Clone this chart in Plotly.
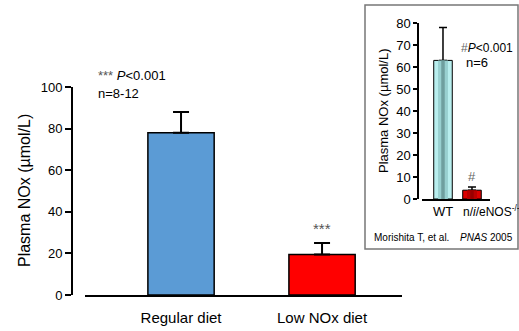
import plotly.graph_objects as go

W, H = 519, 331

# ---- data ----
main_groups = ["Regular diet", "Low NOx diet"]
main_means = [78, 19.5]
main_err = [10, 5.5]
main_colors = ["#5b9bd5", "#ff0000"]
main_ticks = [0, 20, 40, 60, 80, 100]

inset_groups = ["WT", "n/i/eNOS-/-"]
inset_labels = ["WT", "n/<i>i</i>/eNOS<sup>-/-</sup>"]
inset_means = [63, 4]
inset_err = [15, 1.5]
inset_ticks = [0, 10, 20, 30, 40, 50, 60, 70, 80]


def px(x):
    return x / W


def py(y):
    return 1 - y / H


FONT = "Arial, Liberation Sans, sans-serif"

fig = go.Figure()

# main bars
fig.add_trace(go.Bar(
    x=main_groups, y=main_means, width=0.47,
    marker=dict(color=main_colors, line=dict(color="black", width=1.5)),
    error_y=dict(type="data", symmetric=False, array=main_err, arrayminus=[0, 0],
                 color="black", thickness=2, width=8),
    xaxis="x", yaxis="y", showlegend=False,
))

# inset bars (layered to imitate shading)
fig.add_trace(go.Bar(
    x=inset_groups, y=inset_means, width=0.64,
    marker=dict(color=["#b8eeee", "#dd0000"], line=dict(color="black", width=1)),
    error_y=dict(type="data", symmetric=False, array=inset_err, arrayminus=[0, 0],
                 color="black", thickness=1.5, width=4),
    xaxis="x2", yaxis="y2", showlegend=False,
))
fig.add_trace(go.Bar(
    x=inset_groups, y=inset_means, width=0.34,
    marker=dict(color=["#98d0d0", "#bb0000"], line=dict(width=0)),
    xaxis="x2", yaxis="y2", showlegend=False, hoverinfo="skip",
))
fig.add_trace(go.Bar(
    x=inset_groups, y=inset_means, width=0.12,
    marker=dict(color=["#6f9f9f", "#990000"], line=dict(width=0)),
    xaxis="x2", yaxis="y2", showlegend=False, hoverinfo="skip",
))

fig.update_layout(
    template="none",
    width=W, height=H,
    margin=dict(l=0, r=0, t=0, b=0, pad=0, autoexpand=False),
    paper_bgcolor="white", plot_bgcolor="rgba(0,0,0,0)",
    barmode="overlay",
    font=dict(family=FONT, color="black"),
    xaxis=dict(
        domain=[px(85), px(402)], range=[-0.681, 1.567], anchor="y",
        showline=True, linecolor="black", linewidth=2, ticks="",
        showgrid=False, zeroline=False, tickfont=dict(size=15), ticklabelstandoff=8,
        automargin=False,
    ),
    yaxis=dict(
        domain=[py(295), py(87)], range=[0, 100], anchor="free", position=px(72),
        showline=True, linecolor="black", linewidth=2,
        ticks="outside", ticklen=6, tickwidth=2, tickcolor="black",
        tickvals=main_ticks, showgrid=False, zeroline=False, tickfont=dict(size=13),
        automargin=False,
    ),
    xaxis2=dict(
        domain=[px(422), px(490)], range=[-0.724, 1.621], anchor="y2",
        showline=True, linecolor="black", linewidth=1.5, ticks="",
        showgrid=False, zeroline=False, showticklabels=False, automargin=False,
    ),
    yaxis2=dict(
        domain=[py(199), py(23)], range=[0, 80], anchor="free", position=px(418),
        showline=True, linecolor="black", linewidth=1.5,
        ticks="outside", ticklen=4, tickwidth=1.5, tickcolor="black",
        tickvals=inset_ticks, showgrid=False, zeroline=False, tickfont=dict(size=13),
        automargin=False,
    ),
    shapes=[dict(type="rect", xref="paper", yref="paper",
                 x0=px(365), x1=px(518), y0=py(249), y1=py(5),
                 line=dict(color="#777777", width=1.5), fillcolor="white", layer="below")],
)

anns = [
    dict(x=px(24), y=py(191), text="Plasma NOx (µmol/L)", textangle=-90,
         font=dict(size=16)),
    dict(x=px(96), y=py(75), text="<span style='color:#555'>***</span> <i>P</i><0.001",
         xanchor="left", font=dict(size=13)),
    dict(x=px(96), y=py(93), text="n=8-12", xanchor="left", font=dict(size=13)),
    dict(x=px(322), y=py(228), text="***", font=dict(size=15, color="#555")),
    dict(x=px(383), y=py(111), text="Plasma NOx (µmol/L)", textangle=-90,
         font=dict(size=13)),
    dict(x=px(459), y=py(48), text="<span style='color:#666'>#</span><i>P</i><0.001",
         xanchor="left", font=dict(size=12)),
    dict(x=px(477), y=py(63), text="n=6", font=dict(size=13)),
    dict(x=px(472), y=py(176), text="#", font=dict(size=13, color="#666")),
    dict(x=px(443), y=py(211), text=inset_labels[0], font=dict(size=13)),
    dict(x=px(461), y=py(211), text=inset_labels[1], xanchor="left", font=dict(size=12)),
    dict(x=px(372), y=py(237), text="Morishita T, et al.", xanchor="left", font=dict(size=10)),
    dict(x=px(458), y=py(237), text="<i>PNAS</i>", xanchor="left", font=dict(size=10)),
    dict(x=px(515), y=py(237), text="2005", xanchor="right", font=dict(size=10)),
]
for a in anns:
    a.setdefault("xref", "paper")
    a.setdefault("yref", "paper")
    a.setdefault("showarrow", False)
    a.setdefault("xanchor", "center")
    a.setdefault("yanchor", "middle")
    fig.add_annotation(**a)

fig.write_html("out.html", config={"displayModeBar": False},
               post_script="document.body.style.margin='0';document.body.style.overflow='hidden';")
